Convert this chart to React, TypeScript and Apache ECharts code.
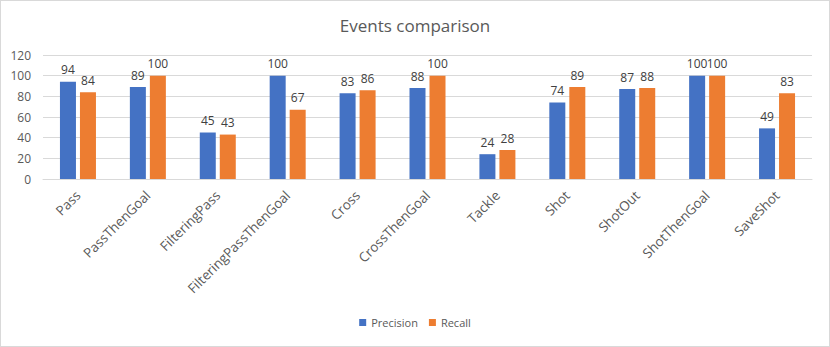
import React, { useEffect, useRef } from "react";
import * as echarts from "echarts";

const categories = [
  "Pass",
  "PassThenGoal",
  "FilteringPass",
  "FilteringPassThenGoal",
  "Cross",
  "CrossThenGoal",
  "Tackle",
  "Shot",
  "ShotOut",
  "ShotThenGoal",
  "SaveShot",
];
const precision = [94, 89, 45, 100, 83, 88, 24, 74, 87, 100, 49];
const recall = [84, 100, 43, 67, 86, 100, 28, 89, 88, 100, 83];

const FONT = "'Open Sans', sans-serif";

export default function App() {
  const ref = useRef<HTMLDivElement>(null);
  useEffect(() => {
    const chart = echarts.init(ref.current!, null, { renderer: "svg" });
    const labelStyle = {
      show: true,
      position: "top" as const,
      distance: 6,
      color: "#404040",
      fontSize: 12,
      fontFamily: FONT,
    };
    chart.setOption({
      animation: false,
      backgroundColor: "#ffffff",
      textStyle: { fontFamily: FONT },
      title: {
        text: "Events comparison",
        left: "center",
        top: 11,
        textStyle: {
          color: "#595959",
          fontSize: 17,
          fontWeight: "normal",
          fontFamily: FONT,
        },
      },
      legend: {
        bottom: 13,
        left: "center",
        itemWidth: 7,
        itemHeight: 7,
        itemGap: 11,
        icon: "rect",
        textStyle: { color: "#595959", fontSize: 11, fontFamily: FONT },
        data: ["Precision", "Recall"],
      },
      grid: { left: 42, right: 17, top: 54, bottom: 167, containLabel: false },
      xAxis: {
        type: "category",
        data: categories,
        axisLine: { lineStyle: { color: "#d9d9d9" } },
        axisTick: { show: false },
        axisLabel: {
          rotate: 45,
          interval: 0,
          color: "#595959",
          fontSize: 13.4,
          fontFamily: FONT,
          margin: 14,
        },
      },
      yAxis: {
        type: "value",
        min: 0,
        max: 120,
        interval: 20,
        axisLine: { show: false },
        axisTick: { show: false },
        splitLine: { lineStyle: { color: "#d9d9d9" } },
        axisLabel: { color: "#595959", fontSize: 12, fontFamily: FONT, margin: 12 },
      },
      series: [
        {
          name: "Precision",
          type: "bar",
          data: precision,
          barWidth: 16,
          barGap: "25%",
          itemStyle: { color: "#4472c4" },
          label: labelStyle,
        },
        {
          name: "Recall",
          type: "bar",
          data: recall,
          barWidth: 16,
          itemStyle: { color: "#ed7d31" },
          label: labelStyle,
        },
      ],
    });
    return () => chart.dispose();
  }, []);
  return (
    <div
      style={{
        position: "fixed",
        left: 0,
        top: 0,
        width: 830,
        height: 347,
        boxSizing: "border-box",
        border: "1px solid #d9d9d9",
        background: "#fff",
      }}
    >
      <div ref={ref} style={{ width: 828, height: 345 }} />
    </div>
  );
}
